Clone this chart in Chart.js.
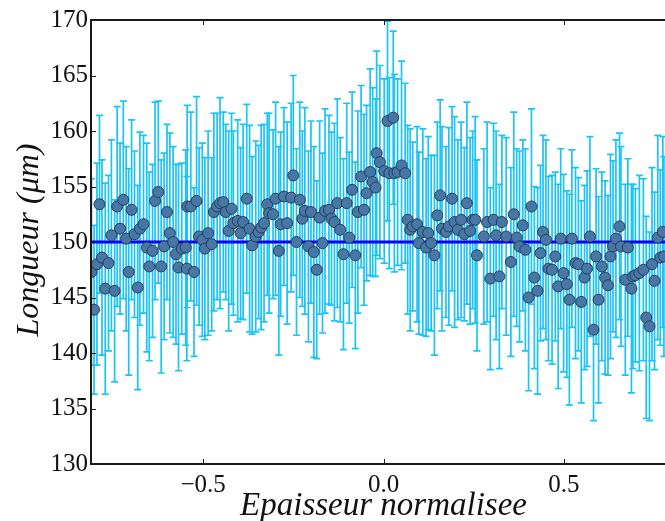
<!DOCTYPE html>
<html>
<head>
<meta charset="utf-8">
<script src="https://cdn.jsdelivr.net/npm/chart.js@4/dist/chart.umd.min.js"></script>
<style>
html,body{margin:0;padding:0;background:#fff;overflow:hidden;}
canvas{display:block;}
</style>
</head>
<body>
<canvas id="c" width="665" height="521"></canvas>
<script>
// ---- data ----
const xValues = [
-0.809,-0.802,-0.794,-0.787,-0.780,-0.771,-0.762,-0.754,-0.745,-0.738,
-0.730,-0.721,-0.713,-0.706,-0.698,-0.690,-0.681,-0.675,-0.665,-0.656,
-0.649,-0.640,-0.633,-0.624,-0.616,-0.608,-0.600,-0.592,-0.583,-0.575,
-0.568,-0.559,-0.548,-0.545,-0.544,-0.534,-0.525,-0.518,-0.511,-0.502,
-0.495,-0.486,-0.476,-0.470,-0.461,-0.453,-0.444,-0.437,-0.429,-0.421,
-0.416,-0.404,-0.396,-0.389,-0.379,-0.371,-0.364,-0.354,-0.346,-0.339,
-0.331,-0.322,-0.317,-0.306,-0.299,-0.290,-0.285,-0.276,-0.267,-0.256,
-0.250,-0.241,-0.232,-0.225,-0.218,-0.208,-0.201,-0.193,-0.185,-0.177,
-0.169,-0.162,-0.151,-0.144,-0.136,-0.128,-0.120,-0.111,-0.102,-0.095,
-0.087,-0.078,-0.071,-0.062,-0.054,-0.047,-0.037,-0.030,-0.022,-0.019,
-0.010,0.002,0.011,0.016,0.027,0.030,0.039,0.050,0.060,0.067,
0.074,0.081,0.093,0.098,0.109,0.118,0.124,0.132,0.141,0.149,
0.157,0.162,0.173,0.181,0.190,0.197,0.206,0.215,0.224,0.231,
0.240,0.247,0.254,0.259,0.278,0.287,0.296,0.305,0.312,0.321,
0.328,0.340,0.353,0.361,0.369,0.377,0.386,0.393,0.402,0.410,
0.418,0.427,0.435,0.442,0.450,0.457,0.467,0.476,0.484,0.491,
0.499,0.508,0.515,0.522,0.532,0.540,0.548,0.557,0.564,0.572,
0.582,0.589,0.596,0.605,0.614,0.622,0.629,0.636,0.644,0.654,
0.658,0.670,0.677,0.687,0.691,0.698,0.709,0.720,0.728,0.737,
0.744,0.751,0.760,0.767,0.774,0.777
];
const yValues = [
147.3,143.9,148.0,153.4,148.6,145.8,148.1,150.6,145.6,153.2,
151.2,153.8,150.3,147.3,152.9,150.7,145.9,151.2,151.6,149.5,
147.8,149.2,153.7,154.5,147.8,149.6,152.7,150.8,150.0,148.9,
147.7,149.4,149.5,147.6,153.2,153.2,147.3,153.7,150.5,150.2,
149.4,150.8,149.8,152.7,153.2,153.5,153.6,152.7,151.0,153.0,
151.7,151.9,150.8,151.8,153.9,151.2,149.7,150.5,150.9,151.3,
151.7,153.4,152.6,152.5,153.9,149.2,151.6,154.1,151.7,154.0,
156.0,150.0,153.8,152.1,152.8,149.6,152.7,149.1,147.5,152.2,
149.9,152.8,152.9,152.1,151.8,153.5,151.1,148.9,153.5,150.4,
154.7,148.8,152.7,155.9,152.9,154.4,156.3,155.4,154.9,158.0,
157.2,156.4,160.9,156.2,161.2,156.2,156.3,156.9,156.2,152.0,
151.1,151.4,151.6,149.9,150.9,149.5,150.8,149.9,148.8,152.4,
154.2,151.2,150.9,151.4,153.9,151.8,151.1,152.0,150.7,153.5,
151.0,152.0,152.0,148.8,150.5,151.8,146.7,152.0,150.6,146.9,
151.8,150.5,148.2,152.5,150.4,149.6,151.5,149.3,145.0,153.2,
146.8,145.6,149.0,150.9,150.2,147.6,147.5,148.7,146.0,150.3,
147.2,146.2,144.8,150.3,148.1,148.0,144.6,146.8,147.6,150.5,
142.1,148.7,144.8,147.8,146.8,146.1,148.7,149.6,150.3,151.4,
149.6,146.6,149.5,145.8,146.9,147.0,147.2,147.5,143.2,142.4,
148.0,146.5,150.4,148.6,150.9,148.7
];
const yErrors = [
8.4,7.6,9.1,8.0,8.8,9.5,7.9,8.6,8.2,9.0,
7.7,8.9,8.3,9.3,8.1,7.5,9.2,8.7,8.0,9.4,
8.5,7.8,8.9,8.2,9.6,8.4,7.9,9.0,8.6,8.1,
9.3,7.7,8.8,8.3,9.1,8.5,7.6,9.4,8.0,8.7,
8.2,9.2,7.8,8.9,8.4,9.5,8.1,7.9,9.0,8.6,
8.3,9.1,7.7,8.8,8.5,9.3,8.0,8.6,7.8,9.2,
8.9,8.2,9.0,7.6,8.7,9.4,8.3,8.0,9.1,8.5,
9.0,8.4,8.8,7.9,9.3,8.6,8.2,9.5,8.0,8.7,
8.1,9.2,8.5,7.8,8.9,9.4,8.3,8.6,9.0,7.7,
8.8,8.4,9.1,8.2,8.6,7.9,9.3,8.5,8.0,9.2,
8.7,8.3,9.0,8.6,7.8,8.9,8.4,9.4,8.1,8.5,
9.1,7.6,8.8,8.2,9.3,8.0,8.7,7.9,9.0,8.4,
8.6,9.2,7.7,8.9,8.3,9.5,8.1,8.8,7.8,9.1,
8.4,8.0,9.3,8.6,7.9,9.0,8.2,8.7,9.4,8.3,
7.8,8.9,8.5,9.2,8.0,8.6,7.7,9.1,8.4,8.8,
8.2,9.3,7.9,8.7,9.0,8.3,8.5,7.6,9.2,8.1,
8.9,8.4,9.5,8.0,8.6,7.8,9.1,8.3,8.8,9.0,
8.2,7.9,9.3,8.5,8.7,8.1,9.2,7.7,8.9,8.4,
9.0,8.6,8.0,9.4,8.3,7.8,8.8,8.2,9.1,8.5,
8.7,8.0,9.2,7.9,8.6,9.0
];
const referenceLevel = 150;
const xRange = [-0.8105, 0.780];
const yRange = [130, 170];
const xTickValues = [-0.5, 0.0, 0.5];
const xTickLabels = ['\u22120.5', '0.0', '0.5'];
const yTickValues = [130, 135, 140, 145, 150, 155, 160, 165, 170];
const yTickLabels = ['130', '135', '140', '145', '150', '155', '160', '165', '170'];
const xTitle = 'Epaisseur normalisee';
const yTitle = 'Longueur (\u03bcm)';

// ---- plugins ----
const errorBars = {
  id: 'errorBars',
  beforeDatasetsDraw(chart) {
    const { ctx, chartArea: a, scales: { x, y } } = chart;
    ctx.save();
    ctx.beginPath();
    ctx.rect(a.left, a.top, a.right - a.left, a.bottom - a.top);
    ctx.clip();
    ctx.strokeStyle = '#1cc3f6';
    ctx.lineWidth = 1.7;
    for (let i = 0; i < xValues.length; i++) {
      const px = x.getPixelForValue(xValues[i]);
      const t = y.getPixelForValue(yValues[i] + yErrors[i]);
      const b = y.getPixelForValue(yValues[i] - yErrors[i]);
      ctx.beginPath();
      ctx.moveTo(px, t); ctx.lineTo(px, b);
      ctx.moveTo(px - 3.5, t); ctx.lineTo(px + 3.5, t);
      ctx.moveTo(px - 3.5, b); ctx.lineTo(px + 3.5, b);
      ctx.stroke();
    }
    ctx.restore();
  }
};

const frame = {
  id: 'frame',
  afterDraw(chart) {
    const { ctx, chartArea: a, scales: { x, y } } = chart;
    ctx.save();
    ctx.strokeStyle = '#1a1a1a';
    ctx.lineWidth = 2;
    ctx.beginPath();
    ctx.moveTo(a.right + 4, a.top); ctx.lineTo(a.left, a.top);
    ctx.lineTo(a.left, a.bottom); ctx.lineTo(a.right + 4, a.bottom);
    ctx.stroke();
    ctx.lineWidth = 1;
    ctx.beginPath();
    xTickValues.forEach(v => {
      const px = Math.round(x.getPixelForValue(v)) + 0.5;
      ctx.moveTo(px, a.bottom); ctx.lineTo(px, a.bottom - 5);
      ctx.moveTo(px, a.top); ctx.lineTo(px, a.top + 5);
    });
    yTickValues.forEach(v => {
      const py = Math.round(y.getPixelForValue(v)) + 0.5;
      ctx.moveTo(a.left, py); ctx.lineTo(a.left + 5, py);
    });
    ctx.stroke();
    // axis titles
    ctx.fillStyle = '#111';
    ctx.textAlign = 'center';
    ctx.textBaseline = 'alphabetic';
    ctx.font = 'italic 33px "Liberation Serif", "DejaVu Serif", serif';
    ctx.fillText(xTitle, x.getPixelForValue(0), 515);
    ctx.font = 'italic 32px "Liberation Serif", "DejaVu Serif", serif';
    ctx.translate(38, y.getPixelForValue(150) - 2);
    ctx.rotate(-Math.PI / 2);
    ctx.fillText(yTitle, 0, 0);
    ctx.restore();
  }
};

const serif = '"Liberation Serif", "DejaVu Serif", serif';

new Chart(document.getElementById('c'), {
  type: 'scatter',
  data: {
    datasets: [
      {
        label: 'points',
        data: xValues.map((v, i) => ({ x: v, y: yValues[i] })),
        backgroundColor: '#4876a6',
        borderColor: '#263f58',
        borderWidth: 1,
        pointRadius: 5.5,
        order: 0
      },
      {
        label: 'niveau',
        data: [{ x: xRange[0], y: referenceLevel }, { x: xRange[1], y: referenceLevel }],
        showLine: true,
        borderColor: '#0000ff',
        borderWidth: 3,
        pointRadius: 0,
        order: 1
      }
    ]
  },
  options: {
    responsive: false,
    animation: false,
    devicePixelRatio: 1,
    layout: { padding: { top: 20, left: 0, right: 0, bottom: 0 }, autoPadding: false },
    plugins: { legend: { display: false }, tooltip: { enabled: false } },
    scales: {
      x: {
        type: 'linear',
        min: xRange[0], max: xRange[1],
        grid: { display: false, drawTicks: false },
        border: { display: false },
        afterBuildTicks: s => { s.ticks = xTickValues.map(v => ({ value: v })); },
        afterFit: s => { s.height = 57; s.paddingLeft = 0; s.paddingRight = 0; },
        ticks: {
          padding: 6,
          color: '#111',
          font: { family: serif, size: 25 },
          maxRotation: 0,
          callback: (v, i) => xTickLabels[i]
        }
      },
      y: {
        type: 'linear',
        min: yRange[0], max: yRange[1],
        grid: { display: false, drawTicks: false },
        border: { display: false },
        afterBuildTicks: s => { s.ticks = yTickValues.map(v => ({ value: v })); },
        afterFit: s => { s.width = 91; s.paddingTop = 0; s.paddingBottom = 0; },
        ticks: {
          padding: 3,
          color: '#111',
          font: { family: serif, size: 25 },
          callback: (v, i) => yTickLabels[i]
        }
      }
    }
  },
  plugins: [errorBars, frame]
});
</script>
</body>
</html>
